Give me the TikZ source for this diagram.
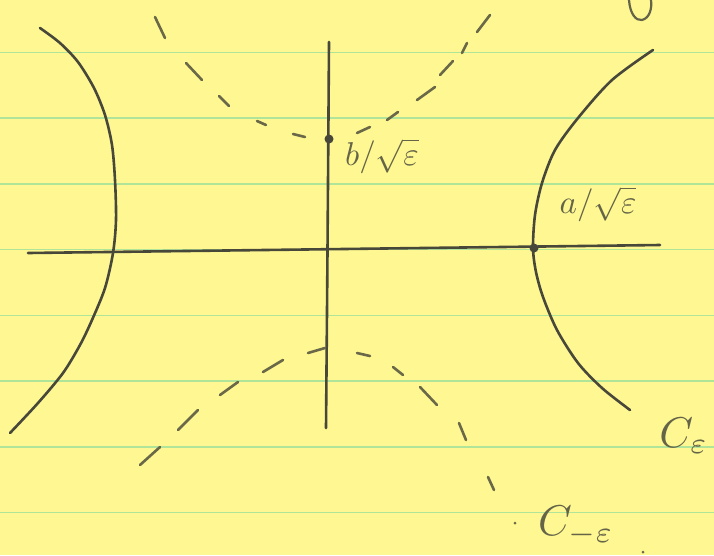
\documentclass[tikz,border=0pt]{standalone}
\usepackage{graphicx}
\usepackage{amsmath}
\definecolor{paper}{RGB}{255,247,145}
\definecolor{rulec}{RGB}{176,228,152}
\definecolor{inkc}{RGB}{72,72,58}
\definecolor{dashc}{RGB}{105,104,72}
\definecolor{labc}{RGB}{100,100,72}
\newcommand{\lblsize}[1]{\scalebox{3.3}{#1}}
\newcommand{\bigsize}[1]{\scalebox{4.3}{#1}}
\begin{document}
\begin{tikzpicture}[x=1pt,y=-1pt,
  ink/.style={draw=inkc, line width=2.6pt, line cap=round, line join=round},
  dashseg/.style={draw=dashc, line width=2.6pt, line cap=round},
  rule/.style={draw=rulec, line width=1.6pt},
  lbl/.style={text=labc, inner sep=0pt},
  dotn/.style={circle, fill=inkc, inner sep=0pt, minimum size=9pt},
  smalldot/.style={circle, fill=dashc, inner sep=0pt, minimum size=3pt}]
\fill[paper] (0,0) rectangle (714,555);
\useasboundingbox (0,0) rectangle (714,555);
% ruled lines
\foreach \k in {0,...,7}
  \draw[rule] (0,{52.5+65.7*\k}) -- (714,{52.5+65.7*\k});
% axes
\coordinate (xl) at (28,253);
\coordinate (xr) at (660,245);
\draw[ink] (xl) -- (xr);
\draw[ink] plot[smooth] coordinates {(329,42) (327.5,250) (326,428)};
% hyperbola C_eps (solid)
\draw[ink] plot[smooth] coordinates {(40,28) (60,43) (78,62) (94,88) (105,115) (112,145) (115,180) (116,220) (113,253) (105,288) (92,320) (80,345) (63,373) (38,403) (10,433)};
\draw[ink] plot[smooth] coordinates {(653,50) (612,80) (578,118) (555,150) (542,183) (535,215) (533,248) (536,272) (543,297) (557,330) (578,363) (602,388) (630,410)};
% vertices
\node[dotn] (av) at (534,248) {};
\node[dotn] (bv) at (329,139) {};
% conjugate hyperbola C_{-eps} (dashed, upper branch)
\draw[dashseg] (155,17) -- (165,38);
\draw[dashseg] (186,63) -- (202,80);
\draw[dashseg] (219,96) -- (229,106);
\draw[dashseg] (257,121) -- (266,125);
\draw[dashseg] (293,134) -- (305,137);
\draw[dashseg] (357,133) -- (370,127);
\draw[dashseg] (387,120) -- (398,112);
\draw[dashseg] (417,100) -- (435,87);
\draw[dashseg] (440,75) -- (453,61);
\draw[dashseg] (462,53) -- (467,43);
\draw[dashseg] (477,32) -- (490,15);
% lower branch
\draw[dashseg] (140,465) -- (160,447);
\draw[dashseg] (178,430) -- (198,410);
\draw[dashseg] (220,395) -- (238,382);
\draw[dashseg] (263,372) -- (283,360);
\draw[dashseg] (308,353) -- (325,348);
\draw[dashseg] (357,353) -- (370,356);
\draw[dashseg] (393,367) -- (403,375);
\draw[dashseg] (420,387) -- (437,405);
\draw[dashseg] (459,423) -- (466,440);
\draw[dashseg] (488,477) -- (494,490);
% labels
\node[lbl] (bl) at (382,156) {\lblsize{$b/\sqrt{\varepsilon}$}};
\node[lbl] (al) at (598,204) {\lblsize{$a/\sqrt{\varepsilon}$}};
\node[lbl] (ce) at (684,436) {\bigsize{$C_{\varepsilon}$}};
\node[lbl] (cme) at (576,526) {\bigsize{$C_{-\varepsilon}$}};
\node[smalldot] (d1) at (515,523) {};
\node[smalldot] (d2) at (643,552) {};
% partial letter at top right
\draw[draw=labc, line width=2.2pt, line cap=round] (629,0) .. controls (630,14) and (636,21) .. (642,20) .. controls (650,18) and (652,8) .. (651,0);
\end{tikzpicture}
\end{document}
